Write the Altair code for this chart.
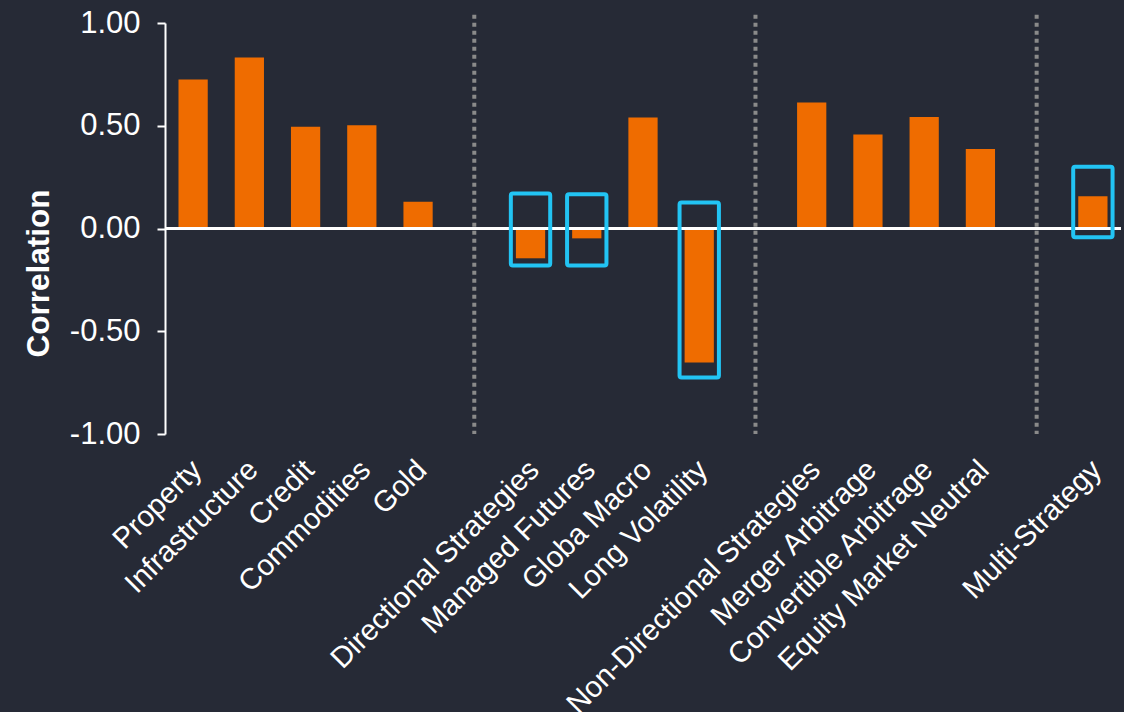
import altair as alt
import pandas as pd
import jinja2

# ---- data ----
categories = [
    "Property", "Infrastructure", "Credit", "Commodities", "Gold", " ",
    "Directional Strategies", "Managed Futures", "Globa Macro", "Long Volatility", "  ",
    "Non-Directional Strategies", "Merger Arbitrage", "Convertible Arbitrage",
    "Equity Market Neutral", "   ", "Multi-Strategy",
]
bar_cats = [
    "Property", "Infrastructure", "Credit", "Commodities", "Gold",
    "Directional Strategies", "Managed Futures", "Globa Macro", "Long Volatility",
    "Non-Directional Strategies", "Merger Arbitrage", "Convertible Arbitrage",
    "Equity Market Neutral", "Multi-Strategy",
]
bar_values = [0.725, 0.832, 0.495, 0.503, 0.130,
              -0.145, -0.048, 0.540, -0.652,
              0.613, 0.458, 0.543, 0.387,
              0.157]

gap_cats = [" ", "  ", "   "]
sep_top = [1.04, 1.04, 1.04]
sep_bottom = [-1.0, -1.0, -1.0]

box_cats = ["Directional Strategies", "Managed Futures", "Long Volatility", "Multi-Strategy"]
box_top = [0.170, 0.167, 0.127, 0.300]
box_bottom = [-0.180, -0.180, -0.725, -0.043]

y_ticks = [-1.0, -0.5, 0.0, 0.5, 1.0]

bars_df = pd.DataFrame({"cat": bar_cats, "value": bar_values})
sep_df = pd.DataFrame({"cat": gap_cats, "value": sep_top, "bottom": sep_bottom})
box_df = pd.DataFrame({"cat": box_cats, "value": box_top, "bottom": box_bottom})

FONT = "Liberation Sans"
BG = "#262a36"
ORANGE = "#ef6c00"
CYAN = "#22c4f4"

x_scale = alt.Scale(domain=categories, paddingInner=0, paddingOuter=0, round=False)
y_scale = alt.Scale(domain=[-1, 1], nice=False, zero=True)

x_axis = alt.Axis(
    title=None, labelAngle=-45, labelFontSize=29.5, labelColor="white",
    labelFont=FONT, domain=False, ticks=False, labelPadding=21, labelOffset=-6,
    labelLimit=1000, labelOverlap=False,
)
y_axis = alt.Axis(
    values=y_ticks,
    labelExpr="(datum.value < 0 ? '-' : '') + format(abs(datum.value), '.2f')",
    title="Correlation", titleFontSize=31.5,
    titleFontWeight="bold", titleColor="white", titleFont=FONT,
    titleX=-117, titleY=250, titleAngle=-90, titleAlign="center",
    titleBaseline="alphabetic",
    labelFontSize=31, labelColor="white", labelFont=FONT, labelPadding=17,
    domainColor="white", domainWidth=2, tickColor="white", tickWidth=2,
    tickSize=8, grid=False,
)

X = alt.X("cat:N", sort=categories, scale=x_scale, axis=x_axis)
Y = alt.Y("value:Q", scale=y_scale, axis=y_axis)

bars = alt.Chart(bars_df).mark_bar(
    color=ORANGE, width=alt.RelativeBandSize(0.52)
).encode(x=X, y=Y)

seps = alt.Chart(sep_df).mark_rule(
    color="#8a8a8a", strokeWidth=4, strokeDash=[4, 4]
).encode(x=X, y=Y, y2="bottom:Q")

zero = alt.Chart(bars_df).mark_rule(color="white", strokeWidth=2.5).encode(
    y=alt.datum(0, scale=y_scale)
)

boxes = alt.Chart(box_df).mark_bar(
    fillOpacity=0, stroke=CYAN, strokeWidth=4, cornerRadius=2,
    width=alt.RelativeBandSize(0.70),
).encode(x=X, y=Y, y2="bottom:Q")

chart = alt.layer(bars, seps, zero, boxes).properties(
    width=956, height=411,
    autosize=alt.AutoSizeParams(type="none"),
    padding={"left": 165, "top": 23, "right": 3, "bottom": 278},
    background=BG,
).configure_view(strokeWidth=0)

EMBED = {"renderer": "svg", "actions": False}
html = chart.to_html(embed_options=EMBED)
html = html.replace(
    "<head>",
    "<head>\n<style>html,body{margin:0;padding:0;background:%s;overflow:hidden;}"
    " svg{display:block;}</style>" % BG,
    1,
)
page_template = jinja2.Template("{% raw %}" + html + "{% endraw %}")

chart.save("out.html", embed_options=EMBED, template=page_template)
